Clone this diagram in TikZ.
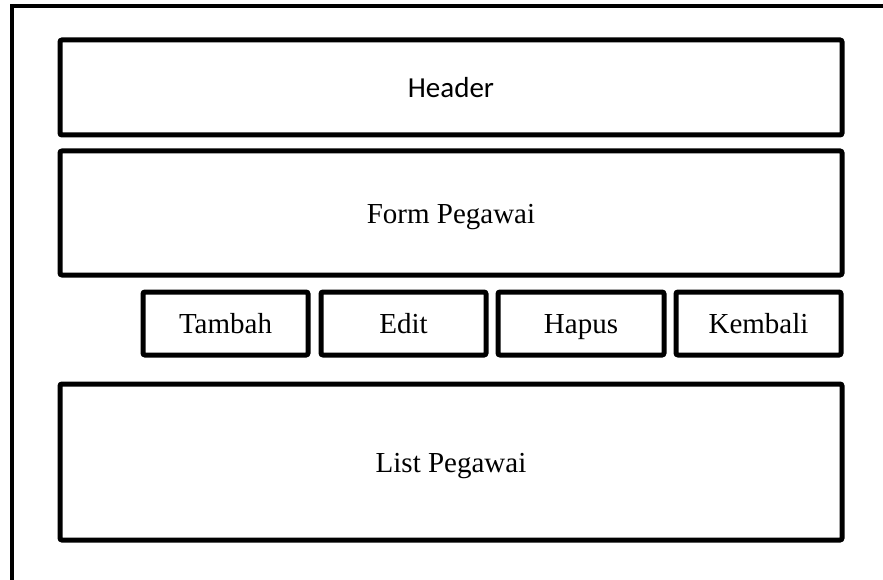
\documentclass[tikz,border=0pt]{standalone}
\usepackage{fontspec}
\setmainfont{Liberation Serif}
\newfontfamily\headfont{Carlito}
\usepackage{tikz}

\tikzset{
    box/.style={draw, line width=5pt, rounded corners=2pt, inner sep=0pt,
        text height=20pt, text depth=0pt,
        font=\fontsize{29}{34}\selectfont},
    frame/.style={line width=4pt}
}

\begin{document}
\begin{tikzpicture}[x=1pt,y=-1pt]
    \useasboundingbox (0,0) rectangle (883,580);
    \draw[frame] (12,580) -- (12,6.5) -- (883,6.5);
    \node[box, minimum width=782, minimum height=95] (header) at (451,87.5) {\headfont Header};
    \node[box, minimum width=782, minimum height=124] (form) at (451,213) {Form Pegawai};
    \node[box, minimum width=165, minimum height=63] (tambah) at (225.5,323.5) {Tambah};
    \node[box, minimum width=165, minimum height=63] (edit) at (403.5,323.5) {Edit};
    \node[box, minimum width=166, minimum height=63] (hapus) at (581,323.5) {Hapus};
    \node[box, minimum width=165, minimum height=63] (kembali) at (758.5,323.5) {Kembali};
    \node[box, minimum width=782, minimum height=156] (list) at (451,462) {List Pegawai};
\end{tikzpicture}
\end{document}
